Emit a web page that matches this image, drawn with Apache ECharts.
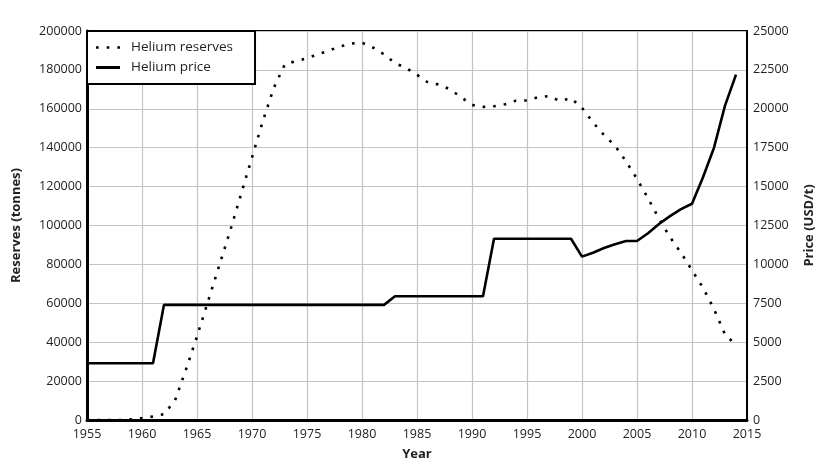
<!DOCTYPE html>
<html>
<head>
<meta charset="utf-8">
<script src="https://cdn.jsdelivr.net/npm/echarts@6/dist/echarts.min.js"></script>
<style>html,body{margin:0;padding:0;background:#fff;}#chart{width:836px;height:474px;}</style>
</head>
<body>
<div id="chart"></div>
<script>
const years = [1955,1956,1957,1958,1959,1960,1961,1962,1963,1964,1965,1966,1967,1968,1969,1970,1971,1972,1973,1974,1975,1976,1977,1978,1979,1980,1981,1982,1983,1984,1985,1986,1987,1988,1989,1990,1991,1992,1993,1994,1995,1996,1997,1998,1999,2000,2001,2002,2003,2004,2005,2006,2007,2008,2009,2010,2011,2012,2013,2014];
const reserves = [0,0,0,0,300,1000,1800,3000,10000,26000,43000,61000,79000,97000,116000,135000,154000,171000,183000,184500,186000,188000,190000,192000,193500,194000,191500,188000,183500,181000,177500,173500,172500,170000,166000,162000,161000,161300,162300,164200,164300,166000,166500,164000,165500,160500,153000,146500,141000,133000,124000,114000,103500,94000,86000,77000,68000,57000,44000,38500];
const price = [3650,3650,3650,3650,3650,3650,3650,7400,7400,7400,7400,7400,7400,7400,7400,7400,7400,7400,7400,7400,7400,7400,7400,7400,7400,7400,7400,7400,7950,7950,7950,7950,7950,7950,7950,7950,7950,11650,11650,11650,11650,11650,11650,11650,11650,10500,10750,11050,11300,11500,11500,12000,12600,13100,13550,13900,15600,17500,20200,22200];
const seriesNames = ['Helium reserves','Helium price'];
const xTitle = 'Year';
const yLeftTitle = 'Reserves (tonnes)';
const yRightTitle = 'Price (USD/t)';

const FONT = 'Open Sans';
const chart = echarts.init(document.getElementById('chart'), null, {renderer:'canvas'});
const gridLine = {show:true, lineStyle:{color:'#c4c4c4', width:1.2}};
const plain = v => String(v);
chart.setOption({
  animation:false,
  backgroundColor:'#fff',
  textStyle:{fontFamily:FONT},
  grid:{left:87, right:89, top:31, bottom:54, show:true, borderColor:'#000', borderWidth:2, backgroundColor:'transparent'},
  legend:{
    left:87, top:31, orient:'vertical', itemWidth:24, itemHeight:3, itemGap:5,
    padding:[9,22,9,9], borderColor:'#000', borderWidth:2, backgroundColor:'#fff',
    textStyle:{fontSize:13.5, color:'#222', fontFamily:FONT, lineHeight:15, padding:[0,0,0,6]},
    data:[
      {name:seriesNames[0], icon:'path://M0,0h2.6v2.6h-2.6z M10.7,0h2.6v2.6h-2.6z M21.4,0h2.6v2.6h-2.6z'},
      {name:seriesNames[1], icon:'rect'}
    ]
  },
  xAxis:{
    type:'value', min:1955, max:2015, interval:5,
    name:xTitle, nameLocation:'middle', nameGap:28,
    nameTextStyle:{fontSize:13, fontWeight:'bold', color:'#222', fontFamily:FONT},
    axisLine:{show:true, onZero:false, lineStyle:{color:'#000', width:3}},
    axisTick:{show:false},
    axisLabel:{fontSize:12.5, color:'#222', margin:8, fontFamily:FONT, formatter:plain},
    splitLine:gridLine
  },
  yAxis:[{
    type:'value', min:0, max:200000, interval:20000, position:'left',
    name:yLeftTitle, nameLocation:'middle', nameGap:64, nameRotate:90,
    nameTextStyle:{fontSize:13, fontWeight:'bold', color:'#222', fontFamily:FONT},
    axisLine:{show:true, lineStyle:{color:'#000', width:3}},
    axisTick:{show:false},
    axisLabel:{fontSize:12.5, color:'#222', margin:5, fontFamily:FONT, formatter:plain},
    splitLine:gridLine
  },{
    type:'value', min:0, max:25000, interval:2500, position:'right',
    name:yRightTitle, nameLocation:'middle', nameGap:56, nameRotate:90,
    nameTextStyle:{fontSize:13, fontWeight:'bold', color:'#222', fontFamily:FONT},
    axisLine:{show:true, lineStyle:{color:'#000', width:2}},
    axisTick:{show:false},
    axisLabel:{fontSize:12.5, color:'#222', margin:6, fontFamily:FONT, formatter:plain},
    splitLine:{show:false}
  }],
  series:[{
    name:seriesNames[0], type:'line', yAxisIndex:0, symbol:'none',
    data: years.map((y,i)=>[y, reserves[i]]),
    lineStyle:{color:'#000', width:2.6, type:[2.6,8], cap:'butt'},
    itemStyle:{color:'#000'}
  },{
    name:seriesNames[1], type:'line', yAxisIndex:1, symbol:'none',
    data: years.map((y,i)=>[y, price[i]]),
    lineStyle:{color:'#000', width:2.6},
    itemStyle:{color:'#000'}
  }]
});
</script>
</body>
</html>
